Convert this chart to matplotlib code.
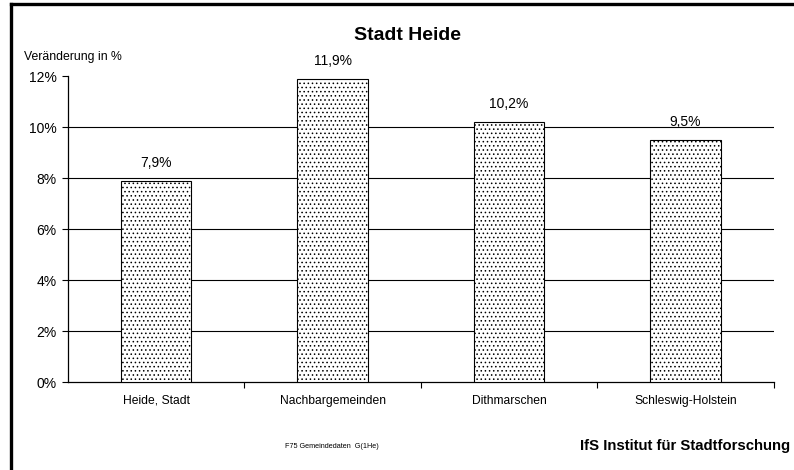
import matplotlib.pyplot as plt
from matplotlib.lines import Line2D
from matplotlib.ticker import FuncFormatter, FixedLocator

plt.rcParams['font.family'] = ['Liberation Sans', 'DejaVu Sans']
plt.rcParams['hatch.color'] = '#707070'
plt.rcParams['hatch.linewidth'] = 0.6

categories = ["Heide, Stadt", "Nachbargemeinden", "Dithmarschen", "Schleswig-Holstein"]
values = [7.9, 11.9, 10.2, 9.5]
y_ticks = [0, 2, 4, 6, 8, 10, 12]

fig = plt.figure(figsize=(7.94, 4.70), dpi=100)
ax = fig.add_axes([0.0856, 0.187, 0.889, 0.651])

x = list(range(len(categories)))
ax.bar(x, values, width=0.4, color='white', edgecolor='black', linewidth=0.8,
       hatch='....', zorder=3)
for xi, v in zip(x, values):
    ax.text(xi, v + 0.42, f"{v:.1f}%".replace('.', ','), ha='center', va='bottom', fontsize=10)

ax.set_xlim(-0.5, len(categories) - 0.5)
ax.set_ylim(0, 12)
ax.set_yticks(y_ticks)
ax.yaxis.set_major_formatter(FuncFormatter(lambda v, p: f"{v:.0f}%"))
for yv in y_ticks[1:-1]:
    ax.axhline(yv, color='black', linewidth=0.8, zorder=1)

ax.set_xticks(x)
ax.set_xticklabels(categories, fontsize=8.7)
ax.tick_params(axis='x', which='major', length=0, pad=9)
ax.xaxis.set_minor_locator(FixedLocator([i + 0.5 for i in range(len(categories))]))
ax.tick_params(axis='x', which='minor', length=4, width=0.8, direction='out')
ax.tick_params(axis='y', length=4, width=0.8, labelsize=10, pad=4)

for side in ['top', 'right']:
    ax.spines[side].set_visible(False)
for side in ['left', 'bottom']:
    ax.spines[side].set_linewidth(0.9)

fig.text(0.513, 0.925, "Stadt Heide", ha='center', va='center', fontsize=14, fontweight='bold')
fig.text(0.030, 0.878, "Veränderung in %", ha='left', va='center', fontsize=8.8)
fig.text(0.418, 0.049, "F75 Gemeindedaten  G(1He)", ha='center', va='center', fontsize=5.2)
fig.text(0.995, 0.052, "IfS Institut für Stadtforschung", ha='right', va='center',
         fontsize=10.7, fontweight='bold')

# outer frame (only left/top visible in the crop)
fig.add_artist(Line2D([11 / 794, 11 / 794], [0, 1 - 4 / 470], color='black', linewidth=2.4,
                      transform=fig.transFigure))
fig.add_artist(Line2D([11 / 794, 1], [1 - 4 / 470, 1 - 4 / 470], color='black', linewidth=2.4,
                      transform=fig.transFigure))

fig.savefig("out.png", dpi=100)
